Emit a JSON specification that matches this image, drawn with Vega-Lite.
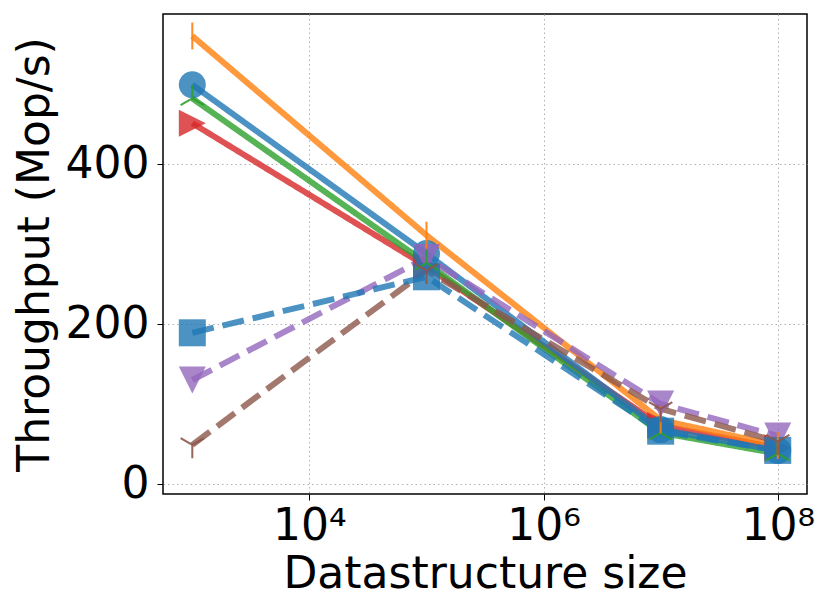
{
  "$schema": "https://vega.github.io/schema/vega-lite/v6.json",
  "width": 644,
  "height": 480,
  "autosize": {"type": "none"},
  "padding": {"left": 163, "top": 14, "right": 24, "bottom": 120},
  "background": "white",
  "data": {
    "values": [
      {"series": "S1", "size": 1000, "tput": 451},
      {"series": "S1", "size": 100000, "tput": 272},
      {"series": "S1", "size": 10000000, "tput": 73},
      {"series": "S1", "size": 100000000, "tput": 45},
      {"series": "S2", "size": 1000, "tput": 482},
      {"series": "S2", "size": 100000, "tput": 276},
      {"series": "S2", "size": 10000000, "tput": 64},
      {"series": "S2", "size": 100000000, "tput": 38},
      {"series": "S3", "size": 1000, "tput": 499},
      {"series": "S3", "size": 100000, "tput": 288},
      {"series": "S3", "size": 10000000, "tput": 68},
      {"series": "S3", "size": 100000000, "tput": 42},
      {"series": "S4", "size": 1000, "tput": 560},
      {"series": "S4", "size": 100000, "tput": 311},
      {"series": "S4", "size": 10000000, "tput": 80},
      {"series": "S4", "size": 100000000, "tput": 48},
      {"series": "S5", "size": 1000, "tput": 130},
      {"series": "S5", "size": 100000, "tput": 283},
      {"series": "S5", "size": 10000000, "tput": 100},
      {"series": "S5", "size": 100000000, "tput": 60},
      {"series": "S6", "size": 1000, "tput": 49},
      {"series": "S6", "size": 100000, "tput": 267},
      {"series": "S6", "size": 10000000, "tput": 94},
      {"series": "S6", "size": 100000000, "tput": 53},
      {"series": "S7", "size": 1000, "tput": 189},
      {"series": "S7", "size": 100000, "tput": 259},
      {"series": "S7", "size": 10000000, "tput": 66},
      {"series": "S7", "size": 100000000, "tput": 42}
    ]
  },
  "encoding": {
    "x": {
      "field": "size",
      "type": "quantitative",
      "scale": {"type": "log", "domain": [562, 177800000], "nice": false},
      "axis": {
        "values": [10000, 1000000, 100000000],
        "labelExpr": "datum.value == 10000 ? '10⁴' : datum.value == 1000000 ? '10⁶' : '10⁸'",
        "title": "Datastructure size",
        "labelPadding": 4,
        "titlePadding": 4
      }
    },
    "y": {
      "field": "tput",
      "type": "quantitative",
      "scale": {"domain": [-12.5, 587.5], "nice": false, "zero": false},
      "axis": {
        "values": [0, 200, 400],
        "title": "Throughput (Mop/s)",
        "labelPadding": 8,
        "titlePadding": 8
      }
    },
    "color": {
      "field": "series",
      "type": "nominal",
      "scale": {
        "domain": ["S1", "S2", "S3", "S4", "S5", "S6", "S7"],
        "range": ["#d62728", "#2ca02c", "#1f77b4", "#ff7f0e", "#9467bd", "#8c564b", "#1f77b4"]
      },
      "legend": null
    },
    "shape": {
      "field": "series",
      "type": "nominal",
      "scale": {
        "domain": ["S1", "S2", "S3", "S4", "S5", "S6", "S7"],
        "range": [
          "M1,0L-1,-1L-1,1Z",
          "M0,0L0,-1M0,0L-0.866,0.5M0,0L0.866,0.5",
          "circle",
          "M0,-1L0,1",
          "M-1,-1L1,-1L0,1Z",
          "M0,0L0,1M0,0L-0.866,-0.5M0,0L0.866,-0.5",
          "square"
        ]
      },
      "legend": null
    }
  },
  "layer": [
    {
      "mark": {"type": "line", "strokeWidth": 6, "opacity": 0.8},
      "encoding": {
        "shape": null,
        "strokeDash": {
          "field": "series",
          "type": "nominal",
          "scale": {
            "domain": ["S1", "S2", "S3", "S4", "S5", "S6", "S7"],
            "range": [[1, 0], [1, 0], [1, 0], [1, 0], [22, 9], [22, 9], [22, 9]]
          },
          "legend": null
        }
      }
    },
    {
      "transform": [{"filter": {"field": "series", "oneOf": ["S1", "S3", "S5", "S7"]}}],
      "mark": {"type": "point", "filled": true, "opacity": 0.8, "size": 729}
    },
    {
      "transform": [{"filter": {"field": "series", "oneOf": ["S2", "S4", "S6"]}}],
      "mark": {"type": "point", "filled": false, "strokeWidth": 2, "opacity": 0.9, "size": 729}
    }
  ],
  "config": {
    "font": "DejaVu Sans",
    "view": {"stroke": "black", "strokeWidth": 1.5},
    "axis": {
      "labelFont": "DejaVu Sans",
      "titleFont": "DejaVu Sans",
      "labelFontSize": 44,
      "titleFontSize": 44,
      "titleFontWeight": "normal",
      "labelColor": "black",
      "titleColor": "black",
      "domain": false,
      "tickColor": "black",
      "tickSize": 6,
      "tickWidth": 1,
      "grid": true,
      "gridColor": "#b0b0b0",
      "gridDash": [1.5, 3],
      "gridWidth": 1
    }
  }
}
